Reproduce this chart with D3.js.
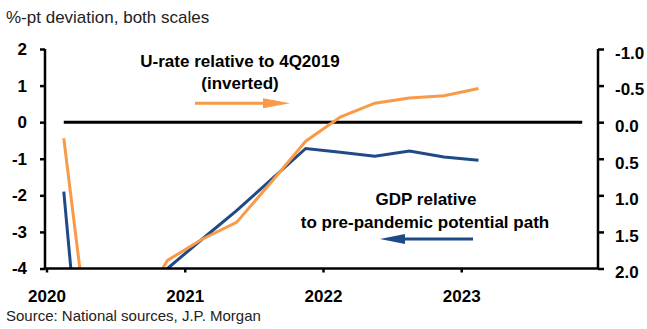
<!DOCTYPE html>
<html lang="en">
<head>
<meta charset="UTF-8">
<title>GDP and U-rate deviation</title>
<script src="https://cdnjs.cloudflare.com/ajax/libs/d3/7.8.5/d3.min.js"></script>
<style>
    body { margin: 0; background: #fff; }
    svg { display: block; font-family: Arial, "Liberation Sans", sans-serif; }
    .axis path, .axis line { stroke: #000; stroke-width: 2.5; }
    .axis text { font-size: 17px; font-weight: bold; fill: #000; }
    .note { font-size: 17px; font-weight: bold; fill: #000; text-anchor: middle; }
</style>
</head>
<body>
<svg id="chart" width="647" height="329"></svg>
<script>
// --- Data (quarterly, 1Q2020 .. 1Q2023) ---
const quarters = ["1Q20","2Q20","3Q20","4Q20","1Q21","2Q21","3Q21","4Q21",
                  "1Q22","2Q22","3Q22","4Q22","1Q23"];
// GDP relative to pre-pandemic potential path, %-pt (left axis)
const gdp = [-1.9, -12.2, -6.0, -4.0, -3.2, -2.42, -1.57, -0.72,
             -0.82, -0.93, -0.79, -0.95, -1.04];
// U-rate relative to 4Q2019, %-pt (right axis, inverted)
const urate = [0.22, 4.05, 2.68, 1.89, 1.6, 1.37, 0.82, 0.26,
               -0.07, -0.26, -0.33, -0.36, -0.46];
// zero reference line spans 1Q20 .. 4Q23
const zeroQuarters = ["1Q20", "4Q23"];
const yearTicks = [2020, 2021, 2022, 2023];
const leftTicks = [2, 1, 0, -1, -2, -3, -4];
const rightTicks = [-1.0, -0.5, 0.0, 0.5, 1.0, 1.5, 2.0];

// quarter label -> decimal year at mid-quarter
const qDate = q => 2000 + (+q.slice(2)) + (+q[0] - 0.5) / 4;

// --- Setup ---
const svg = d3.select("#chart");
const plot = { left: 45, right: 598, top: 49, bottom: 268.5 };

const x = d3.scaleLinear().domain([2020, 2024]).range([46.5, 599.5]);
const yL = d3.scaleLinear().domain([-4, 2]).range([plot.bottom, plot.top]);
const yR = d3.scaleLinear().domain([2.0, -1.0]).range([plot.bottom, plot.top]);

// Title and source
svg.append("text").attr("x", 6).attr("y", 23)
    .style("font-size", "17px").style("fill", "#222")
    .text("%-pt deviation, both scales");
svg.append("text").attr("x", 6).attr("y", 321)
    .style("font-size", "15px").style("fill", "#222")
    .text("Source: National sources, J.P. Morgan");

// clip lines to plot area
svg.append("clipPath").attr("id", "clip")
  .append("rect")
    .attr("x", plot.left).attr("y", plot.top)
    .attr("width", plot.right - plot.left)
    .attr("height", plot.bottom - plot.top);

const g = svg.append("g").attr("clip-path", "url(#clip)");

// zero line
g.append("path")
    .datum(zeroQuarters)
    .attr("d", d3.line().x(q => x(qDate(q))).y(() => yL(0)))
    .attr("stroke", "#000").attr("stroke-width", 3).attr("fill", "none");

// GDP line (left axis)
g.append("path")
    .datum(quarters.map((q, i) => [qDate(q), gdp[i]]))
    .attr("d", d3.line().x(d => x(d[0])).y(d => yL(d[1])))
    .attr("stroke", "#1F4A85").attr("stroke-width", 3).attr("fill", "none");

// U-rate line (right axis, inverted)
g.append("path")
    .datum(quarters.map((q, i) => [qDate(q), urate[i]]))
    .attr("d", d3.line().x(d => x(d[0])).y(d => yR(d[1])))
    .attr("stroke", "#F99A48").attr("stroke-width", 3).attr("fill", "none");

// --- Axes ---
svg.append("g").attr("class", "axis")
    .attr("transform", `translate(${plot.left},0)`)
    .call(d3.axisLeft(yL).tickValues(leftTicks).tickSize(5).tickSizeOuter(0)
        .tickPadding(13).tickFormat(d => String(d)))
    .call(a => a.select(".domain").attr("d", `M0,${plot.top}V${plot.bottom}`));

svg.append("g").attr("class", "axis")
    .attr("transform", `translate(${plot.right},0)`)
    .call(d3.axisRight(yR).tickValues(rightTicks).tickSize(6).tickSizeOuter(0)
        .tickPadding(11).tickFormat(d => d.toFixed(1)))
    .call(a => a.select(".domain").attr("d", `M0,${plot.top}V${plot.bottom}`))
    .call(a => a.selectAll("text").attr("dy", "0.55em"));

svg.append("g").attr("class", "axis")
    .attr("transform", `translate(0,${plot.bottom})`)
    .call(d3.axisBottom(x).tickValues(yearTicks).tickSize(4).tickSizeOuter(0)
        .tickPadding(17.5).tickFormat(d => String(d)))
    .call(a => a.select(".domain").attr("d", `M${plot.left},0H${plot.right}`));

// --- Annotations ---
svg.append("text").attr("class", "note").attr("x", 240).attr("y", 67)
    .text("U-rate relative to 4Q2019");
svg.append("text").attr("class", "note").attr("x", 240).attr("y", 89)
    .text("(inverted)");
svg.append("line").attr("x1", 195).attr("x2", 266).attr("y1", 103.3).attr("y2", 103.3)
    .attr("stroke", "#F99A48").attr("stroke-width", 3);
svg.append("path").attr("d", "M263,98.3L290,103.3L263,108.3Z").attr("fill", "#F99A48");

svg.append("text").attr("class", "note").attr("x", 426).attr("y", 205)
    .text("GDP relative");
svg.append("text").attr("class", "note").attr("x", 425).attr("y", 228)
    .text("to pre-pandemic potential path");
svg.append("line").attr("x1", 473).attr("x2", 403).attr("y1", 239).attr("y2", 239)
    .attr("stroke", "#1F4A85").attr("stroke-width", 3);
svg.append("path").attr("d", "M405,234L380,239L405,244Z").attr("fill", "#1F4A85");
</script>
</body>
</html>
